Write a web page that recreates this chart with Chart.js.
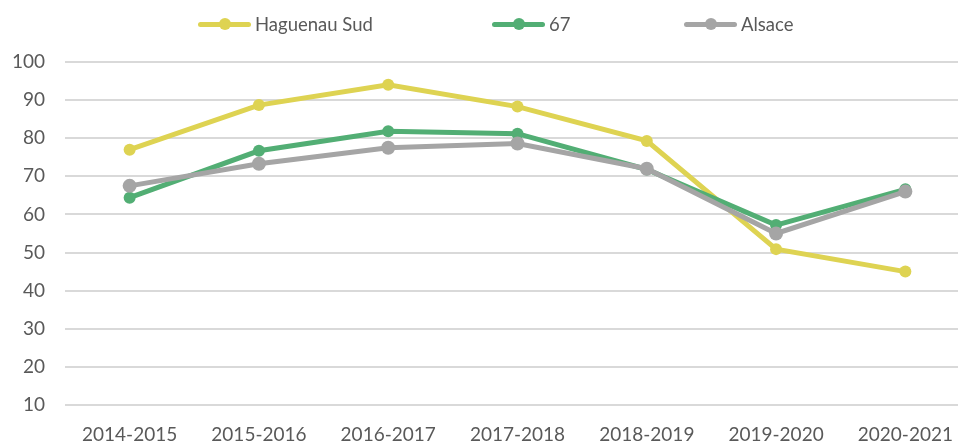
<!DOCTYPE html>
<html>
<head>
<meta charset="utf-8">
<script src="https://cdn.jsdelivr.net/npm/chart.js@4"></script>
<style>
  html, body { margin: 0; padding: 0; background: #fff; overflow: hidden; }
  #wrap { position: absolute; left: 0; top: 0; width: 977px; height: 443px; }
  #legend { position: absolute; left: 0; top: 0; width: 958px; height: 48px; font-family: Lato, "Liberation Sans", sans-serif; font-size: 18.5px; color: #595959; }
  .item { position: absolute; top: 12px; display: flex; align-items: center; height: 24px; }
  .sym { position: relative; width: 53px; height: 5px; border-radius: 3px; margin-right: 4px; }
  .sym::after { content: ""; position: absolute; left: 20.5px; top: -3.5px; width: 12px; height: 12px; border-radius: 50%; background: inherit; }
</style>
</head>
<body>
<div id="wrap"><canvas id="chart_canvas" width="977" height="443"></canvas></div>
<div id="legend"></div>
<script>
const categories = ['2014-2015', '2015-2016', '2016-2017', '2017-2018', '2018-2019', '2019-2020', '2020-2021'];
const haguenauSud = [77.0, 88.7, 94.0, 88.3, 79.3, 50.9, 45.0];
const bas_rhin = [64.4, 76.7, 81.8, 81.2, 71.8, 57.2, 66.6];
const alsace = [67.5, 73.3, 77.5, 78.6, 72.0, 55.0, 66.0];
const yTicks = [10, 20, 30, 40, 50, 60, 70, 80, 90, 100];

const seriesNames = ['Haguenau Sud', '67', 'Alsace'];
const colors = ['#DED352', '#52AE74', '#A5A5A5'];

// Legende als HTML (Excel-Stil: Linie mit Punkt)
const legendPos = [198, 492, 684];
const legend = document.getElementById('legend');
seriesNames.forEach((name, i) => {
  const item = document.createElement('div');
  item.className = 'item';
  item.style.left = legendPos[i] + 'px';
  item.innerHTML = '<span class="sym" style="background:' + colors[i] + '"></span><span>' + name + '</span>';
  legend.appendChild(item);
});

const ctx = document.getElementById('chart_canvas');
new Chart(ctx, {
  type: 'line',
  data: {
    labels: categories,
    datasets: [haguenauSud, bas_rhin, alsace].map((values, i) => ({
      label: seriesNames[i],
      data: values,
      borderColor: colors[i],
      backgroundColor: colors[i],
      borderWidth: 5,
      pointRadius: i === 2 ? 7 : 6,
      pointBorderWidth: 0,
      tension: 0,
      order: 2 - i
    }))
  },
  options: {
    responsive: false,
    animation: false,
    layout: { padding: { top: 62, right: 0, bottom: 0, left: 0 } },
    plugins: {
      legend: { display: false },
      tooltip: { enabled: false }
    },
    scales: {
      x: {
        offset: true,
        grid: { display: false },
        border: { display: false },
        ticks: { color: '#595959', font: { family: 'Lato', size: 19 }, padding: 10, maxRotation: 0 },
        afterFit: scale => { scale.height = 38; }
      },
      y: {
        min: 10,
        max: 100,
        afterBuildTicks: scale => { scale.ticks = yTicks.map(v => ({ value: v })); },
        grid: { color: '#D9D9D9', lineWidth: 2, drawTicks: false },
        border: { display: false },
        ticks: { color: '#595959', font: { family: 'Lato', size: 19 }, padding: 20 },
        afterFit: scale => { scale.width = 65; }
      }
    }
  }
});
</script>
</body>
</html>
